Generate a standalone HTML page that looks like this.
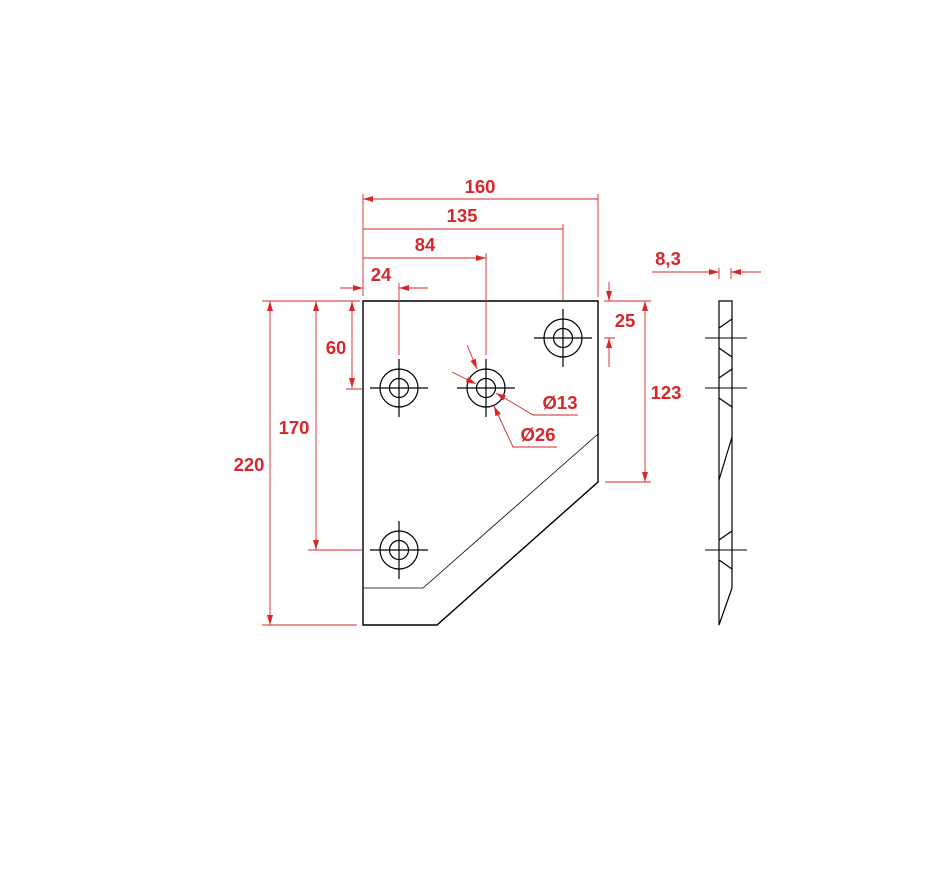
<!DOCTYPE html>
<html><head><style>html,body{margin:0;padding:0;background:#fff}svg{display:block}</style></head><body>
<svg width="950" height="871" viewBox="0 0 950 871" xmlns="http://www.w3.org/2000/svg">
<defs>
<marker id="a" viewBox="0 0 10 6" refX="10" refY="3" markerWidth="10" markerHeight="6" markerUnits="userSpaceOnUse" orient="auto-start-reverse"><path d="M0,0 L10,3 L0,6z" fill="#d9262a"/></marker>
</defs>
<g stroke="#000" fill="none" stroke-width="1.4">
<path d="M363,301 H598 V482 L437,625 H363 Z"/>
</g>
<path d="M598,434 L423,588 H363" stroke="#000" fill="none" stroke-width="0.8"/>
<g stroke="#000" fill="none" stroke-width="1.2">
<g id="h"><circle cx="399" cy="388" r="19"/><circle cx="399" cy="388" r="9.5"/><path d="M370,388h58M399,359v58"/><path d="M397,388h4M399,386v4" stroke-width="0.8"/></g>
<use href="#h" x="87"/><use href="#h" x="164" y="-50"/><use href="#h" y="162"/>
</g>
<g stroke="#000" fill="none" stroke-width="1.2">
<path d="M719,301 H732 V588 L719,625 Z"/>
<path d="M719,328 L732,319 M719,348 L732,357 M719,378 L732,369 M719,398 L732,407 M719,540 L732,531 M719,560 L732,569 M732,437 L719,480"/>
<path d="M705,338h42M705,388h42M705,550h42" stroke-width="1"/>
</g>
<g stroke="#d9262a" fill="none" stroke-width="0.9">
<path d="M363,194V296M598,194V297M563,224V300M486,253V355M399,283V355"/>
<path d="M363,199H598M363,229H563M363,258H486" marker-start="url(#a)" marker-end="url(#a)"/>
<path d="M340,288H363" marker-end="url(#a)"/><path d="M428,288H399" marker-end="url(#a)"/>
<path d="M345,301H360M346,389H362"/>
<path d="M352,301V388" marker-start="url(#a)" marker-end="url(#a)"/>
<path d="M310,301H360M308,550H362"/>
<path d="M316,301V550" marker-start="url(#a)" marker-end="url(#a)"/>
<path d="M262,301H360M262,625H357"/>
<path d="M270,301V625" marker-start="url(#a)" marker-end="url(#a)"/>
<path d="M604,301H651M604,338H615M605,482H651"/>
<path d="M609,282V301" marker-end="url(#a)"/><path d="M609,367V338" marker-end="url(#a)"/>
<path d="M645,301V482" marker-start="url(#a)" marker-end="url(#a)"/>
<path d="M719,268V279M731,268V279"/>
<path d="M652,272H719" marker-end="url(#a)"/><path d="M761,272H731" marker-end="url(#a)"/>
<path d="M452,372L476,384" marker-end="url(#a)"/><path d="M578,415H533L496,393" marker-end="url(#a)"/>
<path d="M467,345L477,369" marker-end="url(#a)"/><path d="M557,447H513L494,406" marker-end="url(#a)"/>
</g>
<g fill="#d9262a" font-family="Liberation Sans, sans-serif" font-weight="bold" font-size="18.5" text-anchor="middle">
<text x="480" y="193">160</text><text x="462" y="222">135</text><text x="425" y="251">84</text><text x="381" y="281">24</text>
<text x="336" y="354">60</text><text x="294" y="434">170</text><text x="249" y="471">220</text>
<text x="625" y="327">25</text><text x="666" y="399">123</text><text x="668" y="265">8,3</text>
<text x="560" y="409">Ø13</text><text x="538" y="441">Ø26</text>
</g>
</svg>
</body></html>
